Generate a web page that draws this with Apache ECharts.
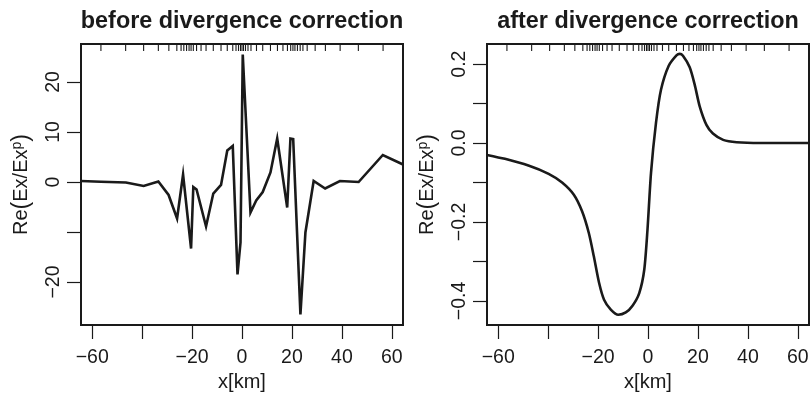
<!DOCTYPE html>
<html>
<head>
<meta charset="utf-8">
<script src="https://cdn.jsdelivr.net/npm/echarts@6/dist/echarts.min.js"></script>
<style>
html,body{margin:0;padding:0;background:#fff;}
#c{width:811px;height:393px;}
</style>
</head>
<body>
<div id="c"></div>
<script>
// station positions (rug at top of both panels), km
const stations = [-56.5, -46.6, -39.4, -33.5, -29.3, -26.1, -24.4, -23.3, -22.2, -21.2, -20.4, -19.5, -18.2, -16.4, -14.4, -11.5, -8.4, -5.9, -3.7, -2.4, -1.4, -0.6, 0.0, 0.6, 1.4, 2.4, 3.6, 5.8, 8.3, 11.4, 14.2, 16.4, 18.2, 19.5, 20.4, 21.2, 22.2, 23.3, 24.4, 26.1, 29.3, 33.4, 39.3, 46.6, 56.5];

// left panel: before divergence correction
const beforeX = [-64.5, -56.5, -46.5, -39.4, -33.5, -29.4, -26.0, -23.6, -20.4, -19.5, -18.2, -14.4, -11.5, -8.4, -5.9, -3.7, -1.8, -0.6, 0.3, 3.4, 5.7, 8.3, 11.4, 14.1, 18.1, 19.4, 20.5, 23.4, 25.4, 28.7, 33.3, 39.2, 46.7, 56.4, 64.5];
const beforeY = [0.2, 0.05, -0.1, -0.8, 0.1, -2.6, -7.3, 1.5, -13.3, -1.0, -1.5, -8.9, -2.3, -0.6, 6.3, 7.2, -18.5, -12.1, 25.5, -6.1, -3.7, -2.0, 1.9, 8.7, -5.1, 8.7, 8.6, -26.5, -10.1, 0.2, -1.3, 0.2, 0.0, 5.4, 3.5];

// right panel: after divergence correction
const afterX = [-64.5, -57.3, -47.9, -39.8, -34.4, -29.7, -26.4, -23.7, -21.7, -19.6, -17.6, -14.9, -11.9, -8.9, -6.2, -3.5, -1.5, -0.2, 1.2, 3.2, 5.2, 8.3, 11.5, 12.7, 14.0, 16.7, 18.7, 20.7, 23.4, 26.0, 30.1, 35.5, 44.9, 56.0, 64.5];
const afterY = [-0.030, -0.040, -0.057, -0.078, -0.100, -0.131, -0.173, -0.228, -0.287, -0.354, -0.397, -0.422, -0.435, -0.429, -0.412, -0.380, -0.321, -0.219, -0.076, 0.051, 0.135, 0.196, 0.223, 0.226, 0.221, 0.192, 0.148, 0.093, 0.046, 0.024, 0.008, 0.002, 0.0, 0.0, 0.0];

const xTicks = [-60, -40, -20, 0, 20, 40, 60];
const xLabels = [-60, -20, 0, 20, 40, 60];
const leftYTicks = [-20, -10, 0, 10, 20];
const leftYLabels = [-20, 0, 10, 20];
const rightYTicks = [-0.4, -0.3, -0.2, -0.1, 0, 0.1, 0.2];
const rightYLabels = [-0.4, -0.2, 0, 0.2];

const titles = ['before divergence correction', 'after divergence correction'];
const xName = 'x[km]';

const FONT = '"Liberation Sans", Arial, Helvetica, sans-serif';
const INK = '#1a1a1a';

function minus(s) { return String(s).replace('-', '\u2212'); }

const pairs = (xs, ys) => xs.map((x, i) => [x, ys[i]]);

const yNameRich = {
  n: { fontSize: 20, fontFamily: FONT, color: INK },
  p: { fontSize: 23, fontFamily: FONT, color: INK },
  s: { fontSize: 14, fontFamily: FONT, color: INK, verticalAlign: 'top' }
};
const yName = '{n|Re}{p|(}{n|Ex/Ex}{s|p}{p|)}';

function xAxisCfg(idx) {
  return {
    type: 'value', gridIndex: idx, min: -64.48, max: 64.48, position: 'bottom',
    name: xName, nameLocation: 'middle', nameGap: 46,
    nameTextStyle: { fontSize: 20, fontFamily: FONT, color: INK },
    axisLine: { show: false, onZero: false },
    axisTick: { show: true, inside: false, length: 14, customValues: xTicks, lineStyle: { color: INK, width: 1.2 } },
    axisLabel: { show: true, customValues: xLabels, margin: 23, fontSize: 19.5, fontFamily: FONT, color: INK, formatter: v => minus(v) },
    splitLine: { show: false }
  };
}

function yAxisCfg(idx, min, max, ticks, labels, fmt) {
  return {
    type: 'value', gridIndex: idx, min: min, max: max, position: 'left',
    name: yName, nameLocation: 'middle', nameGap: 48, nameRotate: 90,
    nameTextStyle: { rich: yNameRich },
    axisLine: { show: false, onZero: false },
    axisTick: { show: true, inside: false, length: 14, customValues: ticks, lineStyle: { color: INK, width: 1.2 } },
    axisLabel: { show: true, customValues: labels, rotate: 90, margin: 17, fontSize: 19.5, fontFamily: FONT, color: INK, formatter: fmt },
    splitLine: { show: false }
  };
}

function rugSeries(idx) {
  return {
    type: 'custom', xAxisIndex: idx, yAxisIndex: idx, silent: true,
    data: stations.map(s => [s]),
    renderItem: function (params, api) {
      const yMax = idx === 0 ? 27.6 : 0.251;
      const p = api.coord([api.value(0), yMax]);
      return { type: 'line', shape: { x1: p[0], y1: p[1], x2: p[0], y2: p[1] + 7 }, style: { stroke: INK, lineWidth: 1.1 } };
    }
  };
}

const gridBase = { top: 44, width: 322, height: 281, show: true, borderColor: INK, borderWidth: 2, backgroundColor: 'transparent', containLabel: false, outerBoundsMode: 'none' };

const chart = echarts.init(document.getElementById('c'), null, { renderer: 'canvas' });
chart.setOption({
  backgroundColor: '#ffffff',
  animation: false,
  title: [
    { text: titles[0], left: 237, top: 5, textAlign: 'center', textStyle: { fontSize: 23.4, fontWeight: 'bold', fontFamily: FONT, color: INK } },
    { text: titles[1], left: 643, top: 5, textAlign: 'center', textStyle: { fontSize: 23.4, fontWeight: 'bold', fontFamily: FONT, color: INK } }
  ],
  grid: [
    Object.assign({ left: 81 }, gridBase),
    Object.assign({ left: 487 }, gridBase)
  ],
  xAxis: [xAxisCfg(0), xAxisCfg(1)],
  yAxis: [
    yAxisCfg(0, -28.6, 27.6, leftYTicks, leftYLabels, v => minus(v)),
    yAxisCfg(1, -0.461, 0.251, rightYTicks, rightYLabels, v => minus(Number(v).toFixed(1)))
  ],
  series: [
    { type: 'line', xAxisIndex: 0, yAxisIndex: 0, data: pairs(beforeX, beforeY), showSymbol: false, symbol: 'none', clip: true,
      lineStyle: { color: INK, width: 2.6, join: 'miter' } },
    { type: 'line', xAxisIndex: 1, yAxisIndex: 1, data: pairs(afterX, afterY), showSymbol: false, symbol: 'none', clip: true,
      smooth: 0.25, lineStyle: { color: INK, width: 2.6 } },
    rugSeries(0),
    rugSeries(1)
  ]
});
</script>
</body>
</html>
